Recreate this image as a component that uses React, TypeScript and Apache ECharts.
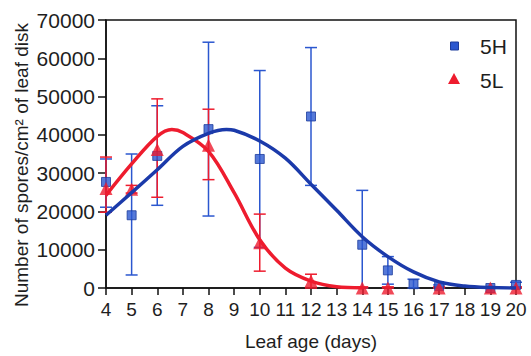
import React, { useEffect, useRef } from "react";
import * as echarts from "echarts";

const days5H = [4, 5, 6, 8, 10, 12, 14, 15, 16, 17, 19, 20];
const mean5H = [27700, 19000, 34500, 41500, 33700, 44800, 11300, 4600, 1000, 500, 0, 800];
const high5H = [33700, 35000, 47600, 64200, 56800, 62800, 25500, 8200, 2300, 800, 200, 1500];
const low5H = [21100, 3400, 21600, 18800, 10600, 26800, 0, 1000, 0, 0, 0, 0];

const days5L = [4, 5, 6, 8, 10, 12, 14, 15, 17, 19, 20];
const mean5L = [26000, 25800, 36200, 37300, 11800, 1800, 0, 0, 0, 0, 0];
const high5L = [34200, 26800, 49400, 46700, 19300, 3600, 300, 300, 300, 300, 300];
const low5L = [19800, 24800, 23700, 28300, 4400, 0, 0, 0, 0, 0, 0];

const fitX5H = [4, 5, 6, 7, 8, 8.7, 9, 10, 11, 12, 13, 14, 15, 16, 17, 18, 19, 20];
const fit5H = [19000, 24900, 30900, 37000, 40400, 41400, 41200, 38400, 33900, 27100, 20300, 13400, 8200, 4200, 1600, 500, 100, 0];

const fitX5L = [4, 5, 6, 6.57, 7, 8, 9, 10, 11, 12, 13, 14];
const fit5L = [24200, 32400, 39600, 41400, 40600, 35700, 24900, 12600, 5200, 1800, 300, 0];

const xTicks = [4, 20];
const yTicks = [0, 70000];
const seriesNames = ["5H", "5L"];

const BLUE = "#2b57cf";
const BLUE_LINE = "#1b3aaa";
const RED = "#ee1c2e";
const TEXT = "#1e1e1e";
const FONT = "Liberation Sans";

function errSeries(days: number[], lo: number[], hi: number[], color: string) {
  return {
    type: "custom",
    silent: true,
    z: 2,
    data: days.map((d, i) => [d, lo[i], hi[i]]),
    renderItem: (params: any, api: any) => {
      const x = api.value(0);
      const a = api.coord([x, api.value(2)]);
      const b = api.coord([x, api.value(1)]);
      const hw = 6;
      const style = { stroke: color, lineWidth: 1.5 };
      return {
        type: "group",
        children: [
          { type: "line", shape: { x1: a[0], y1: a[1], x2: b[0], y2: b[1] }, style },
          { type: "line", shape: { x1: a[0] - hw, y1: a[1], x2: a[0] + hw, y2: a[1] }, style },
          { type: "line", shape: { x1: b[0] - hw, y1: b[1], x2: b[0] + hw, y2: b[1] }, style },
        ],
      };
    },
  };
}

export default function App() {
  const ref = useRef<HTMLDivElement>(null);
  useEffect(() => {
    if (!ref.current) return;
    document.body.style.margin = "0";
    document.body.style.overflow = "hidden";
    const chart = echarts.init(ref.current, undefined, { renderer: "svg" });
    chart.setOption({
      animation: false,
      textStyle: { fontFamily: FONT },
      grid: { left: 106, right: 15, top: 20, bottom: 64, show: true, borderColor: "#111", borderWidth: 1.5 },
      xAxis: {
        type: "value",
        min: xTicks[0],
        max: xTicks[1],
        interval: 1,
        name: "Leaf age (days)",
        nameLocation: "middle",
        nameGap: 44,
        nameTextStyle: { fontSize: 19, color: TEXT, fontFamily: FONT },
        splitLine: { show: false },
        axisLine: { lineStyle: { color: "#111", width: 1.5 } },
        axisTick: { show: true, length: 7, lineStyle: { color: "#111", width: 1.5 } },
        axisLabel: { fontSize: 19, color: TEXT, margin: 12, fontFamily: FONT },
      },
      yAxis: {
        type: "value",
        min: yTicks[0],
        max: yTicks[1],
        interval: 10000,
        splitLine: { show: false },
        axisLine: { show: true, lineStyle: { color: "#111", width: 1.5 } },
        axisTick: { show: true, length: 8, lineStyle: { color: "#111", width: 1.5 } },
        axisLabel: { fontSize: 21, color: TEXT, margin: 11, fontFamily: FONT, formatter: (v: number) => String(v) },
      },
      graphic: [
        {
          type: "text",
          x: 21,
          y: 165,
          rotation: Math.PI / 2,
          style: {
            text: "Number of spores/cm² of leaf disk",
            fontSize: 19,
            fontFamily: FONT,
            fill: TEXT,
            align: "center",
            verticalAlign: "middle",
          },
        },
        {
          type: "rect",
          shape: { x: 450.5, y: 42, width: 8, height: 8 },
          style: { fill: BLUE, stroke: "#1d3c9c", lineWidth: 1 },
        },
        {
          type: "text",
          x: 480,
          y: 46,
          style: { text: seriesNames[0], fontSize: 21, fontFamily: FONT, fill: TEXT, align: "left", verticalAlign: "middle" },
        },
        {
          type: "polygon",
          shape: { points: [[454, 73], [460, 84], [448, 84]] },
          style: { fill: RED },
        },
        {
          type: "text",
          x: 480,
          y: 80,
          style: { text: seriesNames[1], fontSize: 21, fontFamily: FONT, fill: TEXT, align: "left", verticalAlign: "middle" },
        },
      ],
      series: [
        errSeries(days5H, low5H, high5H, BLUE),
        errSeries(days5L, low5L, high5L, RED),
        {
          name: seriesNames[0],
          type: "scatter",
          symbol: "rect",
          symbolSize: 9,
          z: 3,
          itemStyle: { color: BLUE, borderColor: "#1d3c9c", borderWidth: 1 },
          data: days5H.map((d, i) => [d, mean5H[i]]),
        },
        {
          name: seriesNames[1],
          type: "scatter",
          symbol: "triangle",
          symbolSize: 13,
          z: 3,
          itemStyle: { color: RED },
          data: days5L.map((d, i) => [d, mean5L[i]]),
        },
        {
          type: "line",
          smooth: 0.35,
          showSymbol: false,
          silent: true,
          z: 4,
          lineStyle: { color: RED, width: 3.5 },
          data: fitX5L.map((d, i) => [d, fit5L[i]]),
        },
        {
          type: "line",
          smooth: 0.35,
          showSymbol: false,
          silent: true,
          z: 4,
          lineStyle: { color: BLUE_LINE, width: 3.5 },
          data: fitX5H.map((d, i) => [d, fit5H[i]]),
        },
      ],
    });
    return () => chart.dispose();
  }, []);
  return <div ref={ref} style={{ width: 531, height: 356 }} />;
}
